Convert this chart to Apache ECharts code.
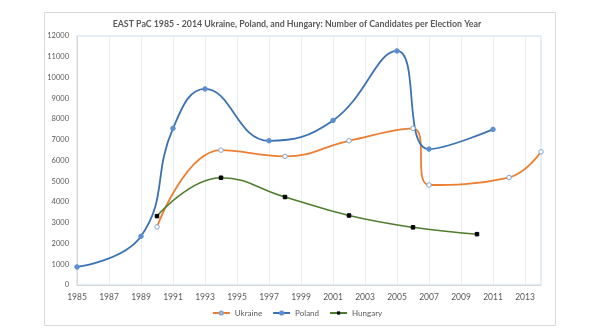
<!DOCTYPE html>
<html><head><meta charset="utf-8">
<script src="https://cdn.jsdelivr.net/npm/echarts@6/dist/echarts.min.js"></script>
<style>html,body{margin:0;padding:0;background:#fff}#c{width:594px;height:334px}</style>
</head><body><div id="c"></div>
<script>
const titleText = 'EAST PaC 1985 - 2014 Ukraine, Poland, and Hungary: Number of Candidates per Election Year';
const xTickLabels = ['1985','1987','1989','1991','1993','1995','1997','1999','2001','2003','2005','2007','2009','2011','2013'];
const ukraineYears = [1990, 1994, 1998, 2002, 2006, 2007, 2012, 2014];
const ukraineValues = [2800, 6500, 6200, 6950, 7550, 4820, 5180, 6420];
const polandYears = [1985, 1989, 1991, 1993, 1997, 2001, 2005, 2007, 2011];
const polandValues = [870, 2350, 7550, 9450, 6950, 7930, 11280, 6550, 7500];
const hungaryYears = [1990, 1994, 1998, 2002, 2006, 2010];
const hungaryValues = [3320, 5170, 4240, 3350, 2780, 2450];

const BASE = 1985;
const pairs = (xs, ys) => xs.map((x, i) => [x - BASE, ys[i]]);
const font = 'Lato, "Open Sans", sans-serif';

const chart = echarts.init(document.getElementById('c'));
chart.setOption({
  animation: false,
  backgroundColor: '#fff',
  title: {
    text: titleText, left: 'center', top: 15,
    textStyle: { fontFamily: font, fontSize: 8.8, fontWeight: 'bold', color: '#595959' }
  },
  graphic: [{
    type: 'rect', left: 42, top: 10, z: -1,
    shape: { width: 511, height: 313 },
    style: { fill: 'none', stroke: '#D9D9D9', lineWidth: 1 }
  }],
  legend: {
    bottom: 12, left: 'center', itemWidth: 17, itemHeight: 4, itemGap: 10,
    textStyle: { fontFamily: font, fontSize: 8, color: '#595959' },
    data: ['Ukraine', 'Poland', 'Hungary']
  },
  grid: { left: 77, right: 53, top: 36, bottom: 49, show: true, borderColor: '#C9DDF0', borderWidth: 1 },
  xAxis: {
    type: 'value', min: 0, max: 29, interval: 2,
    axisLine: { show: true, lineStyle: { color: '#D9D9D9' } },
    axisTick: { show: false },
    splitLine: { show: true, lineStyle: { color: '#E8EEF5' } },
    axisLabel: {
      fontFamily: font, fontSize: 8.5, color: '#595959', margin: 8, showMaxLabel: false,
      formatter: v => { const i = v / 2; return Number.isInteger(i) && xTickLabels[i] ? xTickLabels[i] : ''; }
    }
  },
  yAxis: {
    type: 'value', min: 0, max: 12000, interval: 1000,
    axisLine: { show: true, lineStyle: { color: '#D9D9D9' } },
    axisTick: { show: false },
    splitLine: { show: false },
    axisLabel: { fontFamily: font, fontSize: 7.5, color: '#595959', margin: 8, formatter: v => String(v) }
  },
  series: [
    {
      name: 'Ukraine', type: 'line', smooth: 0.45, data: pairs(ukraineYears, ukraineValues),
      symbol: 'circle', symbolSize: 4.5,
      lineStyle: { color: '#ED7D31', width: 1.8 },
      itemStyle: { color: '#fff', borderColor: '#7FA6D3', borderWidth: 1 }
    },
    {
      name: 'Poland', type: 'line', smooth: 0.45, data: pairs(polandYears, polandValues),
      symbol: 'circle', symbolSize: 4.5,
      lineStyle: { color: '#3C72B2', width: 1.8 },
      itemStyle: { color: '#5B8FD0', borderColor: '#5B8FD0', borderWidth: 1 }
    },
    {
      name: 'Hungary', type: 'line', smooth: 0.45, data: pairs(hungaryYears, hungaryValues),
      symbol: 'rect', symbolSize: 3.5,
      lineStyle: { color: '#4E7D2C', width: 1.5 },
      itemStyle: { color: '#000', borderColor: '#000' }
    }
  ]
});
</script></body></html>
